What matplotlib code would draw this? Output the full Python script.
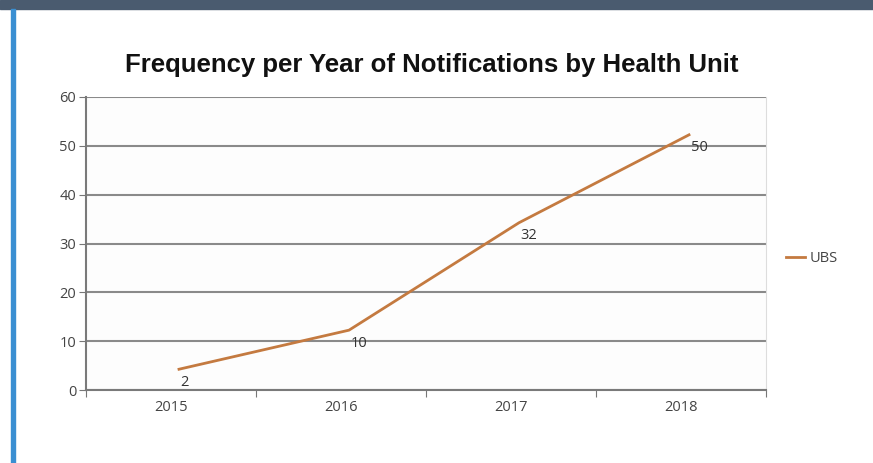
import matplotlib.pyplot as plt
import matplotlib.transforms as mtransforms
import numpy as np

# dados do gráfico
years = ["2015", "2016", "2017", "2018"]
ubs = [2, 10, 32, 50]
y_ticks = [0, 10, 20, 30, 40, 50, 60]

fig = plt.figure(figsize=(8.73, 4.63), dpi=100)
fig.patch.set_facecolor("white")

# faixa escura no topo e barra azul lateral
fig.patches.append(plt.Rectangle((0, 1 - 9 / 463), 1, 9 / 463, transform=fig.transFigure,
                                 color="#4a5b6f", zorder=0))
fig.patches.append(plt.Rectangle((11 / 873, 0), 4 / 873, 1 - 9 / 463, transform=fig.transFigure,
                                 color="#3a8fd2", zorder=0))

ax = fig.add_axes([86 / 873, 73 / 463, 680 / 873, 293 / 463])
ax.set_facecolor("#fdfdfd")

x = np.arange(len(years))

# a linha aparece deslocada na figura original
shift = mtransforms.ScaledTranslation(8 / 100, 11 / 100, fig.dpi_scale_trans)
ax.plot(x, ubs, color="#c47a40", lw=2, label="UBS", transform=ax.transData + shift, zorder=3)

for xi, v in zip(x, ubs):
    ax.annotate(str(v), (xi, v), xytext=(7, -1.5), textcoords="offset points",
                ha="left", va="center", fontsize=10.5, color="#333333",
                fontfamily="Open Sans", zorder=4)

ax.set_xlim(-0.5, 3.5)
ax.set_ylim(0, 60)
ax.set_yticks(y_ticks)
ax.set_yticklabels([str(t) for t in y_ticks], fontfamily="Open Sans", fontsize=10.5, color="#444444")
ax.yaxis.grid(True, color="#8a8a8a", lw=1.5)
ax.set_axisbelow(True)

ax.set_xticks(np.arange(-0.5, 4, 1))
ax.set_xticklabels([])
ax.set_xticks(x, minor=True)
ax.set_xticklabels(years, minor=True, fontfamily="Open Sans", fontsize=10.5, color="#444444")
ax.tick_params(axis="x", which="minor", length=0, pad=7)
ax.tick_params(axis="x", which="major", length=5, direction="out", color="#777777")
ax.tick_params(axis="y", length=5, color="#777777", pad=2)

for s in ["left", "bottom"]:
    ax.spines[s].set_color("#7a7a7a")
    ax.spines[s].set_linewidth(1.5)
ax.spines["top"].set_visible(False)
ax.spines["right"].set_color("#dddddd")

fig.text(432 / 873, 1 - 65 / 463, "Frequency per Year of Notifications by Health Unit",
         ha="center", va="center", fontsize=18.5, fontweight="bold",
         fontfamily="Liberation Sans", color="#111111")

leg = ax.legend(loc="center left", bbox_to_anchor=(1.01, 0.45), frameon=False,
                handlelength=1.3, handletextpad=0.3,
                prop={"family": "Open Sans", "size": 10.5})
for t in leg.get_texts():
    t.set_color("#444444")

plt.savefig("out.png", dpi=100)
